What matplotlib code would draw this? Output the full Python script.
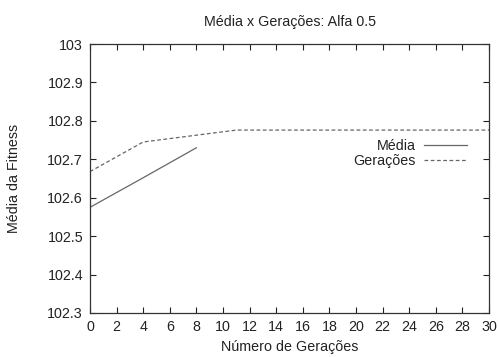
import matplotlib
matplotlib.use("Agg")
import matplotlib.pyplot as plt

plt.rcParams['font.family'] = ['Liberation Sans', 'DejaVu Sans']

media_x = [0, 4, 8]
media_y = [102.575, 102.652, 102.73]
ger_x = [0, 4, 11, 30]
ger_y = [102.668, 102.745, 102.776, 102.776]
xticks = list(range(0, 31, 2))
yticks = [102.3, 102.4, 102.5, 102.6, 102.7, 102.8, 102.9, 103]
ytick_labels = ["102.3", "102.4", "102.5", "102.6", "102.7", "102.8", "102.9", "103"]

FS = 10.3
fig = plt.figure(figsize=(4.99, 3.57), dpi=100)
ax = fig.add_axes([90/499, 1-313/357, 399/499, 269/357])

ax.plot(media_x, media_y, color='#666666', lw=0.9, ls='-', label='Média')
ax.plot(ger_x, ger_y, color='#666666', lw=0.9, ls=(0, (3, 2)), label='Gerações')

ax.set_xlim(0, 30)
ax.set_ylim(102.3, 103)
ax.set_xticks(xticks)
ax.set_yticks(yticks)
ax.set_yticklabels(ytick_labels)
ax.tick_params(direction='in', top=True, right=True, length=4, width=0.8,
               labelsize=FS, colors='#222222', pad=5)
ax.tick_params(axis='x', pad=5)
for s in ax.spines.values():
    s.set_linewidth(0.9)
    s.set_color('#333333')

ax.set_title('Média x Gerações: Alfa 0.5', fontsize=FS, pad=13, color='#222222')
ax.set_xlabel('Número de Gerações', fontsize=FS, labelpad=4, color='#222222')
ax.set_ylabel('Média da Fitness', fontsize=FS, labelpad=19, color='#222222')

leg = ax.legend(loc='upper right', bbox_to_anchor=(0.963, 0.674), frameon=False,
                markerfirst=False, fontsize=FS, handlelength=3.0,
                handletextpad=0.6, labelspacing=0.05, borderpad=0)
for t in leg.get_texts():
    t.set_color('#222222')

fig.savefig('out.png', dpi=100)
